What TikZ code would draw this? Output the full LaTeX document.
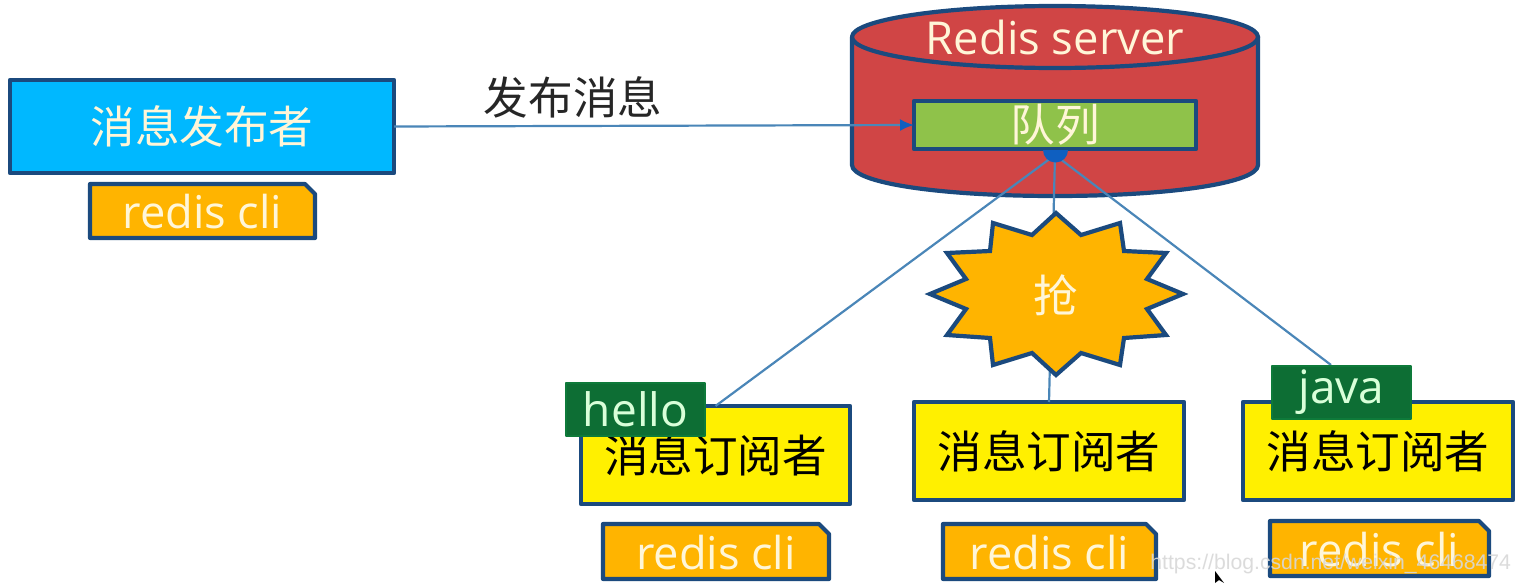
\documentclass[tikz,border=0pt]{standalone}
\usepackage{fontspec}
\setmainfont{Open Sans}
\newfontfamily\cjk{Noto Sans CJK SC}
\newfontfamily\markfont{Liberation Sans}
\usetikzlibrary{arrows.meta}
\definecolor{edge}{HTML}{1B4A7E}
\definecolor{wire}{HTML}{4A86B8}
\definecolor{pubblue}{HTML}{00B8FF}
\definecolor{cliorange}{HTML}{FFB400}
\definecolor{subyellow}{HTML}{FFF000}
\definecolor{srvred}{HTML}{D04545}
\definecolor{qgreen}{HTML}{8FC24A}
\definecolor{tagGreen}{HTML}{0E7A3A}
\definecolor{softwhite}{HTML}{FFF6D8}
\definecolor{dotblue}{HTML}{0F5FC0}
\definecolor{markgrey}{HTML}{D8D8D8}
\tikzset{
  x=0.5pt,y=-0.5pt,
  shapeline/.style={draw=edge,line width=2.1pt,line join=round},
  wireline/.style={draw=wire,line width=1.1pt},
  boxnode/.style={shapeline,rectangle,inner sep=0pt,outer sep=0pt,anchor=north west},
  cjklabel/.style={font=\cjk\fontsize{22.3}{24}\selectfont},
  clitext/.style={text=softwhite,font=\fontsize{22.6}{26}\selectfont},
  tagbox/.style={boxnode,draw=tagGreen,line width=0.8pt,fill=tagGreen!90!black,minimum width=139pt/2,minimum height=53pt/2,text=white!85!green,font=\fontsize{23}{26}\selectfont},
}
\newcommand{\clibox}[5]{%
  \draw[shapeline,fill=cliorange] (#2,#3) -- (#4-10,#3) -- (#4,#3+10) -- (#4,#5) -- (#2,#5) -- cycle;
  \node[clitext] (#1) at ({(#2+#4)/2},{(#3+#5)/2+1}) {redis cli};
}
\begin{document}
\begin{tikzpicture}
\useasboundingbox (0,0) rectangle (1519,583);
\fill[white] (0,0) rectangle (1519,583);

\coordinate (hub) at (1055,155);
\coordinate (subCtop) at (1331,365);

% Server cylinder
\draw[shapeline,fill=srvred] (852,37) -- (852,165)
   .. controls (852,183) and (940,196) .. (1055,196)
   .. controls (1170,196) and (1258,183) .. (1258,165) -- (1258,37) -- cycle;
\draw[shapeline,fill=srvred] (1055,37) ellipse [x radius=203,y radius=31];
\node[text=softwhite,font=\fontsize{22.7}{28}\selectfont] (srv) at (1055,37) {Redis server};

% Queue
\node[boxnode,fill=qgreen,minimum width=282pt/2,minimum height=48pt/2,
      text=softwhite,cjklabel] (queue) at (914,101) {\raisebox{-1pt}{队列}};

% Publisher
\node[boxnode,fill=pubblue,minimum width=384pt/2,minimum height=93pt/2,
      text=softwhite,cjklabel] (pub) at (10,80) {消息发布者};
\clibox{cliA}{90}{184}{315}{238}

\draw[wireline,-{Latex[length=7pt,width=6pt,color=dotblue]}] (pub.east) -- (queue.west);
\node[font=\cjk\fontsize{22.3}{24}\selectfont,text=black!85] (pubmsg) at (573,97) {发布消息};

% Subscribers
\foreach \nm/\X/\Y/\W in {subA/581/406/269,subB/914/402/270,subC/1243/402/270}{
  \node[boxnode,fill=subyellow,minimum width=\W pt/2,minimum height=98pt/2,
        cjklabel,text=black] (\nm) at (\X,\Y) {\raisebox{-6pt}{消息订阅者}};
}

% Subscriber wires
\draw[wireline] (hub) -- (subA.north);
\draw[wireline] (hub) -- (subB.north);
\draw[wireline] (hub) -- (subCtop);
\fill[dotblue] (1043,150) -- (1068,150) arc[start angle=0,end angle=180,radius=12.5] -- cycle;

% Burst
\draw[shapeline,line join=miter,fill=cliorange]
 (1056,213) -- (1081,235) -- (1120,223) -- (1124,251) -- (1166,253) -- (1147,279)
 -- (1183,294) -- (1147,309) -- (1166,335) -- (1124,338) -- (1120,365) -- (1081,353)
 -- (1056,375) -- (1032,353) -- (993,365) -- (990,338) -- (947,335) -- (966,309)
 -- (930,294) -- (966,279) -- (947,253) -- (990,251) -- (993,223) -- (1032,235) -- cycle;
\node[text=softwhite,cjklabel] (grab) at (1056,295) {抢};

\clibox{cliB}{603}{524}{829}{579}
\clibox{cliC}{943}{524}{1156}{579}
\clibox{cliD}{1270}{521}{1489}{576}

% Message tags
\node[tagbox] (tagA) at (566,383) {hello};
\node[tagbox] (tagC) at (1272,366) {java};

% Watermark
\node[anchor=west,inner sep=0pt,text=markgrey,opacity=.9,font=\markfont\fontsize{10.6}{14}\selectfont] (mark) at (1150,564) {https://blog.csdn.net/weixin\_46468474};
% Cursor
\fill[black] (1215,571) -- (1215,583) -- (1219,580) -- (1224,583) -- cycle;
\end{tikzpicture}
\end{document}
